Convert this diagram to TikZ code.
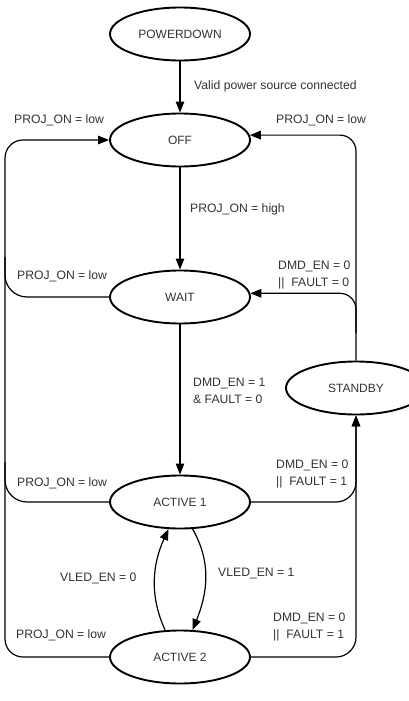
\documentclass[tikz,border=0pt]{standalone}
\usepackage{fontspec}
\setmainfont{Liberation Sans}
\usetikzlibrary{shapes.geometric,arrows.meta,calc}
\begin{document}
\begin{tikzpicture}[x=1pt,y=-1pt,
  state/.style={ellipse,draw=black,line width=1.9pt,minimum width=140pt,minimum height=53pt,inner sep=0pt,font=\fontsize{12}{13}\selectfont,text=black!80},
  conn/.style={draw=black,line width=1.2pt},
  arr/.style={conn,-{Triangle[length=11pt,width=8.5pt]}},
  lbl/.style={anchor=west,inner sep=0pt,align=left,text=black!80,font=\fontsize{12.2}{17}\selectfont}]
\clip (0,0) rectangle (409,701);
\fill[white] (0,0) rectangle (409,701);
\coordinate (L) at (5,0);
\coordinate (R) at (356,0);
\node[state] (pd) at (180,34) {POWERDOWN};
\node[state] (off) at (180,140) {OFF};
\node[state] (wait) at (180,297) {WAIT};
\node[state] (sb) at (356,388) {STANDBY};
\node[state] (a1) at (180,502) {ACTIVE 1};
\node[state] (a2) at (180,657) {ACTIVE 2};
% vertical flow
\draw[arr] (pd) -- (off);
\draw[arr] (off) -- (wait);
\draw[arr] (wait) -- (a1);
% left bus
\draw[arr,rounded corners=18pt] (a2.west) -- (a2.west -| L) -- (off.west -| L) -- (off.west);
\draw[conn,rounded corners=22pt] (wait.west) -- (wait.west -| L) -- ($(wait.west -| L)+(0,-40)$);
\draw[conn,rounded corners=22pt] (a1.west) -- (a1.west -| L) -- ($(a1.west -| L)+(0,-40)$);
% right bus
\draw[arr,rounded corners=16pt] (sb.north) -- (sb.north |- off.4) -- (off.4);
\draw[arr,rounded corners=16pt] ($(wait.3 -| R)+(0,40)$) -- (wait.3 -| R) -- (wait.3);
\draw[arr,rounded corners=20pt] (a2.east) -- (a2.east -| R) -- (sb.south);
\draw[arr,rounded corners=20pt] (a1.east) -- (a1.east -| R) -- (sb.south);
% loop
\draw[arr] (a2.119) .. controls +(-16,-35) and +(-16,35) .. (a1.247);
\draw[arr] (a1.295) .. controls +(20,35) and +(14,-35) .. (a2.65);
% labels
\node[lbl] (t1) at (194,86) {Valid power source connected};
\node[lbl] (t2) at (14,120) {PROJ\_ON = low};
\node[lbl] (t3) at (276,120) {PROJ\_ON = low};
\node[lbl] (t4) at (190,209) {PROJ\_ON = high};
\node[lbl] (t5) at (17,276) {PROJ\_ON = low};
\node[lbl] (t6) at (278,275.5) {DMD\_EN = 0\\||\ \ FAULT = 0};
\node[lbl] (t7) at (193,391) {DMD\_EN = 1\\\& FAULT = 0};
\node[lbl] (t8) at (276,474.5) {DMD\_EN = 0\\||\ \ FAULT = 1};
\node[lbl] (t9) at (17,483) {PROJ\_ON = low};
\node[lbl] (t10) at (60,578) {VLED\_EN = 0};
\node[lbl] (t11) at (218,574) {VLED\_EN = 1};
\node[lbl] (t12) at (273,627) {DMD\_EN = 0\\||\ \ FAULT = 1};
\node[lbl] (t13) at (16,635) {PROJ\_ON = low};
\end{tikzpicture}
\end{document}
